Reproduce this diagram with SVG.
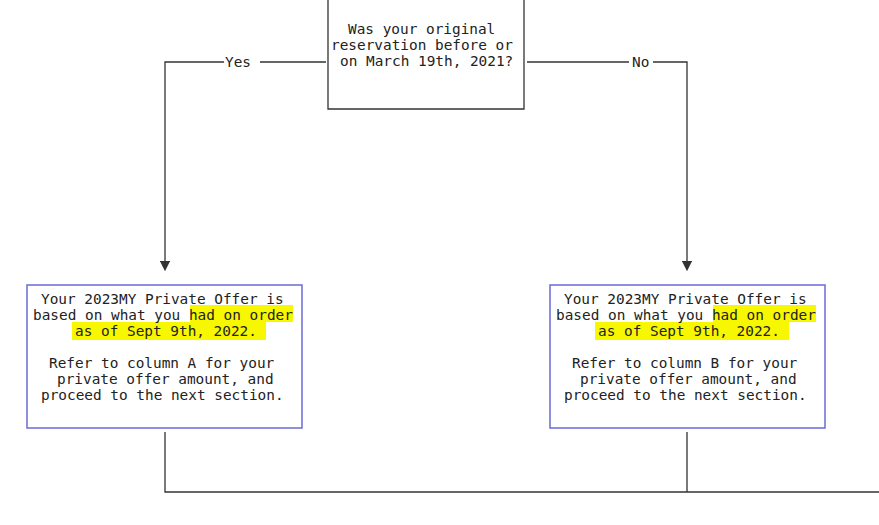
<svg xmlns="http://www.w3.org/2000/svg" width="879" height="525" viewBox="0 0 879 525">
<style>
text{font-family:"DejaVu Sans Mono","Liberation Mono",monospace;font-size:14.4px;fill:#222}
.l{stroke:#333;stroke-width:1.3;fill:none}
.b{fill:#fff;stroke:#6b6bd6;stroke-width:1.5}
.h{fill:#f7f700}
</style>
<defs><marker id="a" markerWidth="8" markerHeight="8" refX="4" refY="4" orient="auto"><path d="M0,0L8,4L0,8z" fill="#333"/></marker></defs>
<rect width="879" height="525" fill="#fff"/>
<g id="connectors">
<path class="l" d="M326,62H165V266" marker-end="url(#a)"/>
<path class="l" d="M527,62H687V266" marker-end="url(#a)"/>
<path class="l" d="M165,432V492H879M687,432V492"/>
<rect x="224" y="54" width="36" height="16" fill="#fff"/>
<text x="225" y="67">Yes</text>
<rect x="629" y="54" width="24" height="16" fill="#fff"/>
<text x="632" y="67">No</text>
</g>
<g id="question">
<path class="l" d="M328,0V109H524V0"/>
<text x="348" y="34">Was your original</text>
<text x="331" y="50">reservation before or</text>
<text x="340" y="66">on March 19th, 2021?</text>
</g>
<g id="optionA">
<rect class="b" x="27" y="285" width="275" height="143"/>
<rect class="h" x="190" y="305" width="103" height="17"/>
<rect class="h" x="72" y="322" width="194" height="18"/>
<text x="41" y="304">Your 2023MY Private Offer is</text>
<text x="33" y="320">based on what you had on order</text>
<text x="75" y="336">as of Sept 9th, 2022.</text>
<text x="49" y="368">Refer to column A for your</text>
<text x="57" y="384">private offer amount, and</text>
<text x="41" y="400">proceed to the next section.</text>
</g>
<g id="optionB">
<rect class="b" x="550" y="285" width="275" height="143"/>
<rect class="h" x="713" y="305" width="103" height="17"/>
<rect class="h" x="595" y="322" width="194" height="18"/>
<text x="564" y="304">Your 2023MY Private Offer is</text>
<text x="556" y="320">based on what you had on order</text>
<text x="598" y="336">as of Sept 9th, 2022.</text>
<text x="572" y="368">Refer to column B for your</text>
<text x="580" y="384">private offer amount, and</text>
<text x="564" y="400">proceed to the next section.</text>
</g>
</svg>
